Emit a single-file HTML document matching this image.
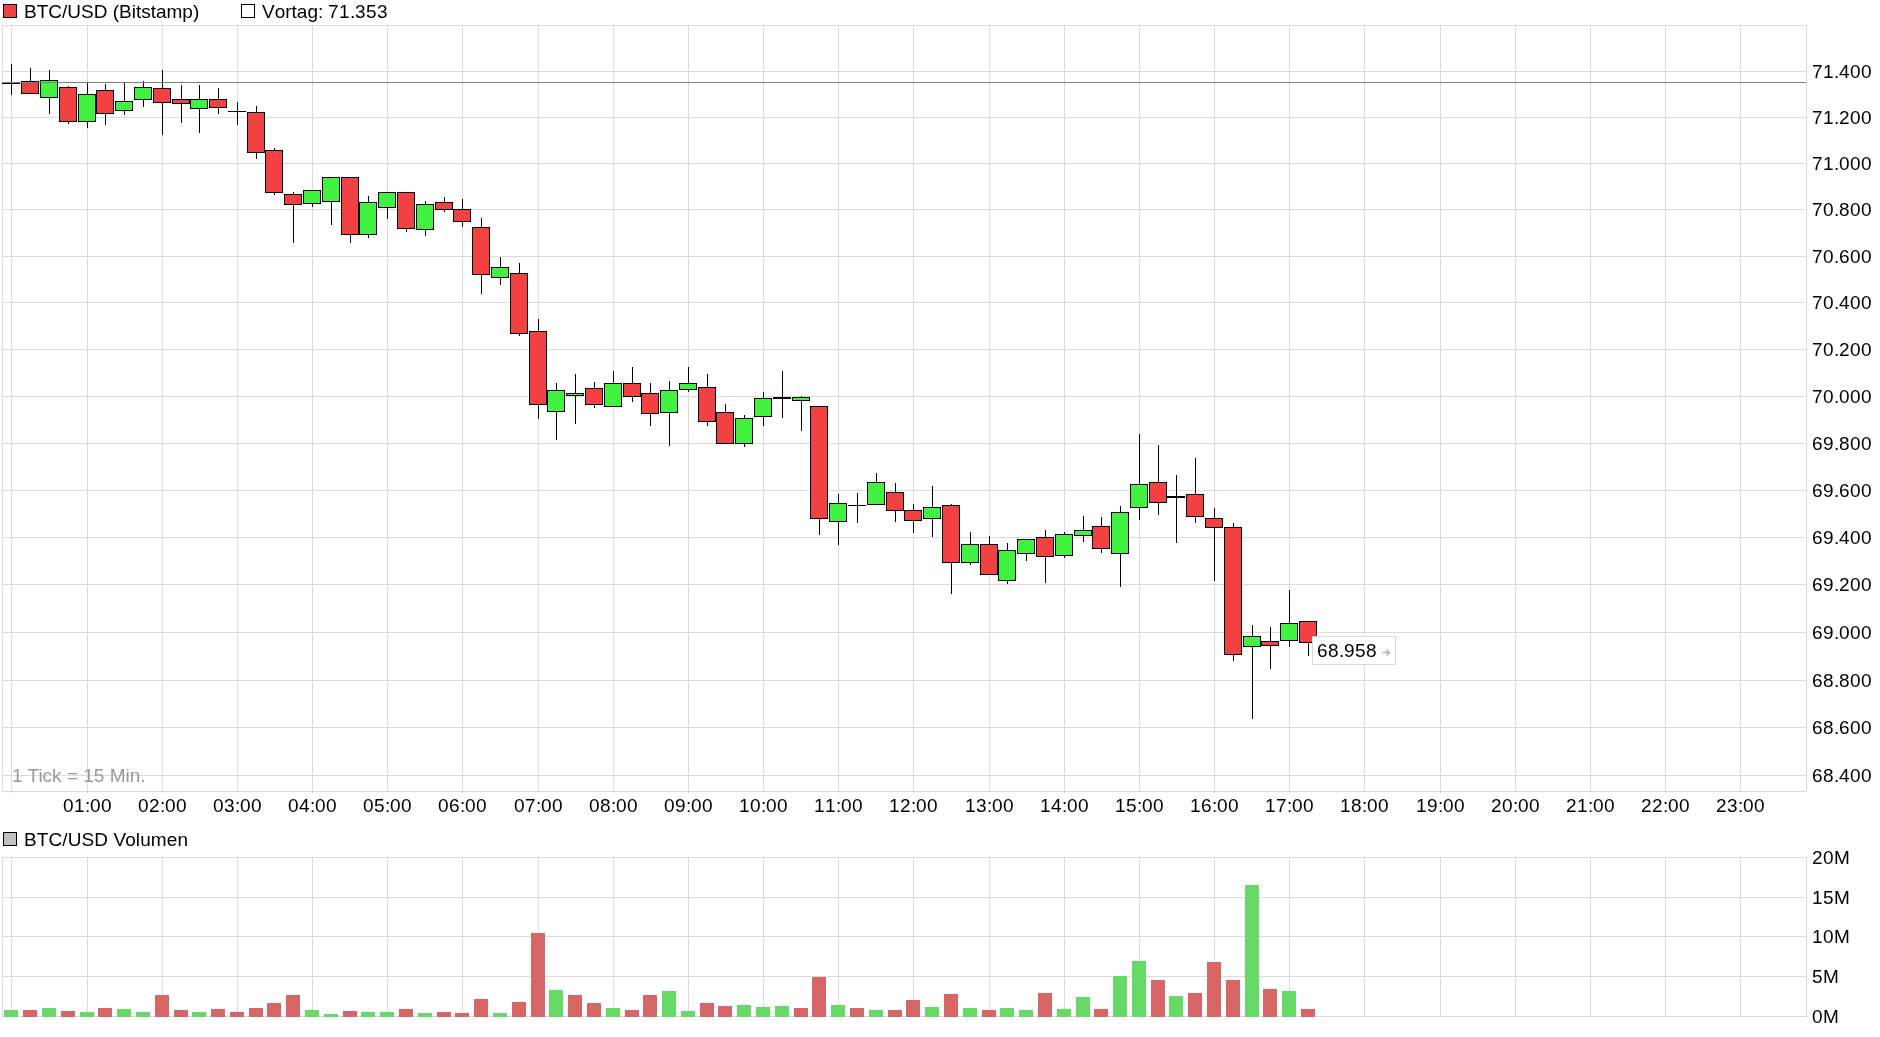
<!DOCTYPE html><html><head><meta charset="utf-8"><style>html,body{margin:0;padding:0;background:#fff;width:1880px;height:1037px;overflow:hidden}svg{display:block;will-change:transform}text{font-family:"Liberation Sans",sans-serif;font-size:19px}</style></head><body>
<svg width="1880" height="1037" viewBox="0 0 1880 1037">
<rect x="0" y="0" width="1880" height="1037" fill="#fff"/>
<path d="M11.5 25V793 M87.5 25V793 M162.5 25V793 M237.5 25V793 M312.5 25V793 M387.5 25V793 M462.5 25V793 M538.5 25V793 M613.5 25V793 M688.5 25V793 M763.5 25V793 M838.5 25V793 M913.5 25V793 M989.5 25V793 M1064.5 25V793 M1139.5 25V793 M1214.5 25V793 M1289.5 25V793 M1364.5 25V793 M1440.5 25V793 M1515.5 25V793 M1590.5 25V793 M1665.5 25V793 M1740.5 25V793 M2 71.5H1806 M2 117.5H1806 M2 163.5H1806 M2 209.5H1806 M2 256.5H1806 M2 302.5H1806 M2 349.5H1806 M2 396.5H1806 M2 443.5H1806 M2 490.5H1806 M2 537.5H1806 M2 584.5H1806 M2 632.5H1806 M2 680.5H1806 M2 727.5H1806 M2 775.5H1806" stroke="#dcdcdc" stroke-width="1" fill="none" shape-rendering="crispEdges"/>
<rect x="2.5" y="25.5" width="1804" height="766" stroke="#dadada" fill="none" shape-rendering="crispEdges"/>
<path d="M11.5 857V1017 M87.5 857V1017 M162.5 857V1017 M237.5 857V1017 M312.5 857V1017 M387.5 857V1017 M462.5 857V1017 M538.5 857V1017 M613.5 857V1017 M688.5 857V1017 M763.5 857V1017 M838.5 857V1017 M913.5 857V1017 M989.5 857V1017 M1064.5 857V1017 M1139.5 857V1017 M1214.5 857V1017 M1289.5 857V1017 M1364.5 857V1017 M1440.5 857V1017 M1515.5 857V1017 M1590.5 857V1017 M1665.5 857V1017 M1740.5 857V1017 M2 857.5H1806 M2 897.5H1806 M2 936.5H1806 M2 976.5H1806 M2 1016.5H1806" stroke="#dcdcdc" stroke-width="1" fill="none" shape-rendering="crispEdges"/>
<rect x="2.5" y="857.5" width="1804" height="159" stroke="#dadada" fill="none" shape-rendering="crispEdges"/>
<rect x="4" y="1010" width="14" height="7" fill="#66d966" shape-rendering="crispEdges"/>
<rect x="23" y="1010" width="14" height="7" fill="#d96666" shape-rendering="crispEdges"/>
<rect x="42" y="1008" width="14" height="9" fill="#66d966" shape-rendering="crispEdges"/>
<rect x="61" y="1011" width="14" height="6" fill="#d96666" shape-rendering="crispEdges"/>
<rect x="80" y="1012" width="14" height="5" fill="#66d966" shape-rendering="crispEdges"/>
<rect x="98" y="1008" width="14" height="9" fill="#d96666" shape-rendering="crispEdges"/>
<rect x="117" y="1009" width="14" height="8" fill="#66d966" shape-rendering="crispEdges"/>
<rect x="136" y="1012" width="14" height="5" fill="#66d966" shape-rendering="crispEdges"/>
<rect x="155" y="995" width="14" height="22" fill="#d96666" shape-rendering="crispEdges"/>
<rect x="174" y="1010" width="14" height="7" fill="#d96666" shape-rendering="crispEdges"/>
<rect x="192" y="1012" width="14" height="5" fill="#66d966" shape-rendering="crispEdges"/>
<rect x="211" y="1009" width="14" height="8" fill="#d96666" shape-rendering="crispEdges"/>
<rect x="230" y="1012" width="14" height="5" fill="#d96666" shape-rendering="crispEdges"/>
<rect x="249" y="1008" width="14" height="9" fill="#d96666" shape-rendering="crispEdges"/>
<rect x="267" y="1003" width="14" height="14" fill="#d96666" shape-rendering="crispEdges"/>
<rect x="286" y="995" width="14" height="22" fill="#d96666" shape-rendering="crispEdges"/>
<rect x="305" y="1010" width="14" height="7" fill="#66d966" shape-rendering="crispEdges"/>
<rect x="324" y="1014" width="14" height="3" fill="#66d966" shape-rendering="crispEdges"/>
<rect x="343" y="1011" width="14" height="6" fill="#d96666" shape-rendering="crispEdges"/>
<rect x="361" y="1012" width="14" height="5" fill="#66d966" shape-rendering="crispEdges"/>
<rect x="380" y="1012" width="14" height="5" fill="#66d966" shape-rendering="crispEdges"/>
<rect x="399" y="1009" width="14" height="8" fill="#d96666" shape-rendering="crispEdges"/>
<rect x="418" y="1013" width="14" height="4" fill="#66d966" shape-rendering="crispEdges"/>
<rect x="437" y="1012" width="14" height="5" fill="#d96666" shape-rendering="crispEdges"/>
<rect x="455" y="1013" width="14" height="4" fill="#d96666" shape-rendering="crispEdges"/>
<rect x="474" y="999" width="14" height="18" fill="#d96666" shape-rendering="crispEdges"/>
<rect x="493" y="1013" width="14" height="4" fill="#66d966" shape-rendering="crispEdges"/>
<rect x="512" y="1002" width="14" height="15" fill="#d96666" shape-rendering="crispEdges"/>
<rect x="531" y="933" width="14" height="84" fill="#d96666" shape-rendering="crispEdges"/>
<rect x="549" y="990" width="14" height="27" fill="#66d966" shape-rendering="crispEdges"/>
<rect x="568" y="995" width="14" height="22" fill="#d96666" shape-rendering="crispEdges"/>
<rect x="587" y="1003" width="14" height="14" fill="#d96666" shape-rendering="crispEdges"/>
<rect x="606" y="1008" width="14" height="9" fill="#66d966" shape-rendering="crispEdges"/>
<rect x="625" y="1010" width="14" height="7" fill="#d96666" shape-rendering="crispEdges"/>
<rect x="643" y="995" width="14" height="22" fill="#d96666" shape-rendering="crispEdges"/>
<rect x="662" y="991" width="14" height="26" fill="#66d966" shape-rendering="crispEdges"/>
<rect x="681" y="1011" width="14" height="6" fill="#66d966" shape-rendering="crispEdges"/>
<rect x="700" y="1003" width="14" height="14" fill="#d96666" shape-rendering="crispEdges"/>
<rect x="718" y="1006" width="14" height="11" fill="#d96666" shape-rendering="crispEdges"/>
<rect x="737" y="1005" width="14" height="12" fill="#66d966" shape-rendering="crispEdges"/>
<rect x="756" y="1007" width="14" height="10" fill="#66d966" shape-rendering="crispEdges"/>
<rect x="775" y="1006" width="14" height="11" fill="#66d966" shape-rendering="crispEdges"/>
<rect x="794" y="1008" width="14" height="9" fill="#d96666" shape-rendering="crispEdges"/>
<rect x="812" y="977" width="14" height="40" fill="#d96666" shape-rendering="crispEdges"/>
<rect x="831" y="1005" width="14" height="12" fill="#66d966" shape-rendering="crispEdges"/>
<rect x="850" y="1008" width="14" height="9" fill="#d96666" shape-rendering="crispEdges"/>
<rect x="869" y="1010" width="14" height="7" fill="#66d966" shape-rendering="crispEdges"/>
<rect x="888" y="1010" width="14" height="7" fill="#d96666" shape-rendering="crispEdges"/>
<rect x="906" y="1000" width="14" height="17" fill="#d96666" shape-rendering="crispEdges"/>
<rect x="925" y="1007" width="14" height="10" fill="#66d966" shape-rendering="crispEdges"/>
<rect x="944" y="994" width="14" height="23" fill="#d96666" shape-rendering="crispEdges"/>
<rect x="963" y="1008" width="14" height="9" fill="#66d966" shape-rendering="crispEdges"/>
<rect x="982" y="1010" width="14" height="7" fill="#d96666" shape-rendering="crispEdges"/>
<rect x="1000" y="1008" width="14" height="9" fill="#66d966" shape-rendering="crispEdges"/>
<rect x="1019" y="1010" width="14" height="7" fill="#66d966" shape-rendering="crispEdges"/>
<rect x="1038" y="993" width="14" height="24" fill="#d96666" shape-rendering="crispEdges"/>
<rect x="1057" y="1009" width="14" height="8" fill="#66d966" shape-rendering="crispEdges"/>
<rect x="1076" y="997" width="14" height="20" fill="#66d966" shape-rendering="crispEdges"/>
<rect x="1094" y="1009" width="14" height="8" fill="#d96666" shape-rendering="crispEdges"/>
<rect x="1113" y="976" width="14" height="41" fill="#66d966" shape-rendering="crispEdges"/>
<rect x="1132" y="961" width="14" height="56" fill="#66d966" shape-rendering="crispEdges"/>
<rect x="1151" y="980" width="14" height="37" fill="#d96666" shape-rendering="crispEdges"/>
<rect x="1169" y="996" width="14" height="21" fill="#66d966" shape-rendering="crispEdges"/>
<rect x="1188" y="993" width="14" height="24" fill="#d96666" shape-rendering="crispEdges"/>
<rect x="1207" y="962" width="14" height="55" fill="#d96666" shape-rendering="crispEdges"/>
<rect x="1226" y="980" width="14" height="37" fill="#d96666" shape-rendering="crispEdges"/>
<rect x="1245" y="885" width="14" height="132" fill="#66d966" shape-rendering="crispEdges"/>
<rect x="1263" y="989" width="14" height="28" fill="#d96666" shape-rendering="crispEdges"/>
<rect x="1282" y="991" width="14" height="26" fill="#66d966" shape-rendering="crispEdges"/>
<rect x="1301" y="1009" width="14" height="8" fill="#d96666" shape-rendering="crispEdges"/>
<path d="M11.5 64V95 M2 83.5H20 M30.5 68V94 M49.5 70V114 M68.5 86V124 M87.5 83V128 M105.5 84V125 M124.5 82V115 M143.5 81V107 M162.5 70V135 M181.5 85V123 M199.5 85V133 M218.5 88V114 M237.5 102V125 M228 111.5H246 M256.5 106V159 M274.5 148V195 M293.5 192V243 M312.5 190V207 M331.5 177V225 M350.5 177V243 M368.5 196V238 M387.5 192V219 M406.5 192V232 M425.5 201V236 M444.5 197V212 M462.5 199V227 M481.5 218V294 M500.5 257V285 M519.5 263V336 M538.5 319V419 M556.5 383V440 M575.5 374V424 M594.5 382V408 M613.5 371V407 M632.5 367V402 M650.5 383V426 M669.5 381V446 M688.5 367V392 M707.5 374V426 M725.5 404V444 M744.5 415V447 M763.5 392V426 M782.5 371V418 M773 397.5H791 M773 398.5H791 M801.5 396V431 M819.5 406V535 M838.5 494V545 M857.5 493V523 M848 505.5H866 M876.5 473V505 M895.5 483V522 M913.5 504V533 M932.5 486V537 M951.5 504V594 M970.5 532V565 M989.5 536V575 M1007.5 543V584 M1026.5 539V561 M1045.5 530V583 M1064.5 532V558 M1083.5 516V542 M1101.5 517V553 M1120.5 506V587 M1139.5 434V520 M1158.5 445V515 M1176.5 475V543 M1167 496.5H1185 M1167 497.5H1185 M1195.5 458V523 M1214.5 508V581 M1233.5 523V661 M1252.5 625V719 M1270.5 627V669 M1289.5 590V647 M1308.5 621V656" stroke="#000" stroke-width="1" fill="none" shape-rendering="crispEdges"/>
<rect x="21.5" y="81.5" width="17" height="12" fill="#f24141" stroke="#000" stroke-width="1" shape-rendering="crispEdges"/>
<rect x="40.5" y="80.5" width="17" height="17" fill="#41f241" stroke="#000" stroke-width="1" shape-rendering="crispEdges"/>
<rect x="59.5" y="87.5" width="17" height="34" fill="#f24141" stroke="#000" stroke-width="1" shape-rendering="crispEdges"/>
<rect x="78.5" y="94.5" width="17" height="27" fill="#41f241" stroke="#000" stroke-width="1" shape-rendering="crispEdges"/>
<rect x="96.5" y="90.5" width="17" height="23" fill="#f24141" stroke="#000" stroke-width="1" shape-rendering="crispEdges"/>
<rect x="115.5" y="101.5" width="17" height="9" fill="#41f241" stroke="#000" stroke-width="1" shape-rendering="crispEdges"/>
<rect x="134.5" y="87.5" width="17" height="12" fill="#41f241" stroke="#000" stroke-width="1" shape-rendering="crispEdges"/>
<rect x="153.5" y="88.5" width="17" height="14" fill="#f24141" stroke="#000" stroke-width="1" shape-rendering="crispEdges"/>
<rect x="172.5" y="99.5" width="17" height="4" fill="#f24141" stroke="#000" stroke-width="1" shape-rendering="crispEdges"/>
<rect x="190.5" y="99.5" width="17" height="9" fill="#41f241" stroke="#000" stroke-width="1" shape-rendering="crispEdges"/>
<rect x="209.5" y="99.5" width="17" height="8" fill="#f24141" stroke="#000" stroke-width="1" shape-rendering="crispEdges"/>
<rect x="247.5" y="112.5" width="17" height="40" fill="#f24141" stroke="#000" stroke-width="1" shape-rendering="crispEdges"/>
<rect x="265.5" y="150.5" width="17" height="42" fill="#f24141" stroke="#000" stroke-width="1" shape-rendering="crispEdges"/>
<rect x="284.5" y="194.5" width="17" height="10" fill="#f24141" stroke="#000" stroke-width="1" shape-rendering="crispEdges"/>
<rect x="303.5" y="190.5" width="17" height="13" fill="#41f241" stroke="#000" stroke-width="1" shape-rendering="crispEdges"/>
<rect x="322.5" y="177.5" width="17" height="24" fill="#41f241" stroke="#000" stroke-width="1" shape-rendering="crispEdges"/>
<rect x="341.5" y="177.5" width="17" height="57" fill="#f24141" stroke="#000" stroke-width="1" shape-rendering="crispEdges"/>
<rect x="359.5" y="202.5" width="17" height="32" fill="#41f241" stroke="#000" stroke-width="1" shape-rendering="crispEdges"/>
<rect x="378.5" y="192.5" width="17" height="15" fill="#41f241" stroke="#000" stroke-width="1" shape-rendering="crispEdges"/>
<rect x="397.5" y="192.5" width="17" height="36" fill="#f24141" stroke="#000" stroke-width="1" shape-rendering="crispEdges"/>
<rect x="416.5" y="204.5" width="17" height="25" fill="#41f241" stroke="#000" stroke-width="1" shape-rendering="crispEdges"/>
<rect x="435.5" y="202.5" width="17" height="7" fill="#f24141" stroke="#000" stroke-width="1" shape-rendering="crispEdges"/>
<rect x="453.5" y="209.5" width="17" height="12" fill="#f24141" stroke="#000" stroke-width="1" shape-rendering="crispEdges"/>
<rect x="472.5" y="227.5" width="17" height="47" fill="#f24141" stroke="#000" stroke-width="1" shape-rendering="crispEdges"/>
<rect x="491.5" y="267.5" width="17" height="10" fill="#41f241" stroke="#000" stroke-width="1" shape-rendering="crispEdges"/>
<rect x="510.5" y="273.5" width="17" height="60" fill="#f24141" stroke="#000" stroke-width="1" shape-rendering="crispEdges"/>
<rect x="529.5" y="331.5" width="17" height="73" fill="#f24141" stroke="#000" stroke-width="1" shape-rendering="crispEdges"/>
<rect x="547.5" y="390.5" width="17" height="21" fill="#41f241" stroke="#000" stroke-width="1" shape-rendering="crispEdges"/>
<rect x="566.5" y="393.5" width="17" height="2" fill="#41f241" stroke="#000" stroke-width="1" shape-rendering="crispEdges"/>
<rect x="585.5" y="388.5" width="17" height="16" fill="#f24141" stroke="#000" stroke-width="1" shape-rendering="crispEdges"/>
<rect x="604.5" y="383.5" width="17" height="23" fill="#41f241" stroke="#000" stroke-width="1" shape-rendering="crispEdges"/>
<rect x="623.5" y="383.5" width="17" height="13" fill="#f24141" stroke="#000" stroke-width="1" shape-rendering="crispEdges"/>
<rect x="641.5" y="393.5" width="17" height="20" fill="#f24141" stroke="#000" stroke-width="1" shape-rendering="crispEdges"/>
<rect x="660.5" y="390.5" width="17" height="22" fill="#41f241" stroke="#000" stroke-width="1" shape-rendering="crispEdges"/>
<rect x="679.5" y="383.5" width="17" height="6" fill="#41f241" stroke="#000" stroke-width="1" shape-rendering="crispEdges"/>
<rect x="698.5" y="387.5" width="17" height="34" fill="#f24141" stroke="#000" stroke-width="1" shape-rendering="crispEdges"/>
<rect x="716.5" y="412.5" width="17" height="31" fill="#f24141" stroke="#000" stroke-width="1" shape-rendering="crispEdges"/>
<rect x="735.5" y="418.5" width="17" height="25" fill="#41f241" stroke="#000" stroke-width="1" shape-rendering="crispEdges"/>
<rect x="754.5" y="398.5" width="17" height="18" fill="#41f241" stroke="#000" stroke-width="1" shape-rendering="crispEdges"/>
<rect x="792.5" y="397.5" width="17" height="3" fill="#41f241" stroke="#000" stroke-width="1" shape-rendering="crispEdges"/>
<rect x="810.5" y="406.5" width="17" height="112" fill="#f24141" stroke="#000" stroke-width="1" shape-rendering="crispEdges"/>
<rect x="829.5" y="503.5" width="17" height="18" fill="#41f241" stroke="#000" stroke-width="1" shape-rendering="crispEdges"/>
<rect x="867.5" y="482.5" width="17" height="22" fill="#41f241" stroke="#000" stroke-width="1" shape-rendering="crispEdges"/>
<rect x="886.5" y="492.5" width="17" height="18" fill="#f24141" stroke="#000" stroke-width="1" shape-rendering="crispEdges"/>
<rect x="904.5" y="510.5" width="17" height="10" fill="#f24141" stroke="#000" stroke-width="1" shape-rendering="crispEdges"/>
<rect x="923.5" y="507.5" width="17" height="11" fill="#41f241" stroke="#000" stroke-width="1" shape-rendering="crispEdges"/>
<rect x="942.5" y="505.5" width="17" height="57" fill="#f24141" stroke="#000" stroke-width="1" shape-rendering="crispEdges"/>
<rect x="961.5" y="544.5" width="17" height="18" fill="#41f241" stroke="#000" stroke-width="1" shape-rendering="crispEdges"/>
<rect x="980.5" y="544.5" width="17" height="30" fill="#f24141" stroke="#000" stroke-width="1" shape-rendering="crispEdges"/>
<rect x="998.5" y="550.5" width="17" height="30" fill="#41f241" stroke="#000" stroke-width="1" shape-rendering="crispEdges"/>
<rect x="1017.5" y="539.5" width="17" height="14" fill="#41f241" stroke="#000" stroke-width="1" shape-rendering="crispEdges"/>
<rect x="1036.5" y="537.5" width="17" height="19" fill="#f24141" stroke="#000" stroke-width="1" shape-rendering="crispEdges"/>
<rect x="1055.5" y="534.5" width="17" height="21" fill="#41f241" stroke="#000" stroke-width="1" shape-rendering="crispEdges"/>
<rect x="1074.5" y="530.5" width="17" height="5" fill="#41f241" stroke="#000" stroke-width="1" shape-rendering="crispEdges"/>
<rect x="1092.5" y="526.5" width="17" height="22" fill="#f24141" stroke="#000" stroke-width="1" shape-rendering="crispEdges"/>
<rect x="1111.5" y="512.5" width="17" height="41" fill="#41f241" stroke="#000" stroke-width="1" shape-rendering="crispEdges"/>
<rect x="1130.5" y="484.5" width="17" height="23" fill="#41f241" stroke="#000" stroke-width="1" shape-rendering="crispEdges"/>
<rect x="1149.5" y="482.5" width="17" height="20" fill="#f24141" stroke="#000" stroke-width="1" shape-rendering="crispEdges"/>
<rect x="1186.5" y="494.5" width="17" height="22" fill="#f24141" stroke="#000" stroke-width="1" shape-rendering="crispEdges"/>
<rect x="1205.5" y="518.5" width="17" height="9" fill="#f24141" stroke="#000" stroke-width="1" shape-rendering="crispEdges"/>
<rect x="1224.5" y="527.5" width="17" height="127" fill="#f24141" stroke="#000" stroke-width="1" shape-rendering="crispEdges"/>
<rect x="1243.5" y="636.5" width="17" height="10" fill="#41f241" stroke="#000" stroke-width="1" shape-rendering="crispEdges"/>
<rect x="1261.5" y="641.5" width="17" height="4" fill="#f24141" stroke="#000" stroke-width="1" shape-rendering="crispEdges"/>
<rect x="1280.5" y="623.5" width="17" height="17" fill="#41f241" stroke="#000" stroke-width="1" shape-rendering="crispEdges"/>
<rect x="1299.5" y="621.5" width="17" height="21" fill="#f24141" stroke="#000" stroke-width="1" shape-rendering="crispEdges"/>
<path d="M2 82.5H1806" stroke="#808080" stroke-width="1" shape-rendering="crispEdges"/>
<text x="1812 1823 1834 1839 1850 1861" y="78.0" font-family="Liberation Sans, sans-serif" font-size="19">71.400</text>
<text x="1812 1823 1834 1839 1850 1861" y="124.0" font-family="Liberation Sans, sans-serif" font-size="19">71.200</text>
<text x="1812 1823 1834 1839 1850 1861" y="170.2" font-family="Liberation Sans, sans-serif" font-size="19">71.000</text>
<text x="1812 1823 1834 1839 1850 1861" y="216.4" font-family="Liberation Sans, sans-serif" font-size="19">70.800</text>
<text x="1812 1823 1834 1839 1850 1861" y="262.8" font-family="Liberation Sans, sans-serif" font-size="19">70.600</text>
<text x="1812 1823 1834 1839 1850 1861" y="309.4" font-family="Liberation Sans, sans-serif" font-size="19">70.400</text>
<text x="1812 1823 1834 1839 1850 1861" y="356.1" font-family="Liberation Sans, sans-serif" font-size="19">70.200</text>
<text x="1812 1823 1834 1839 1850 1861" y="402.9" font-family="Liberation Sans, sans-serif" font-size="19">70.000</text>
<text x="1812 1823 1834 1839 1850 1861" y="449.8" font-family="Liberation Sans, sans-serif" font-size="19">69.800</text>
<text x="1812 1823 1834 1839 1850 1861" y="496.9" font-family="Liberation Sans, sans-serif" font-size="19">69.600</text>
<text x="1812 1823 1834 1839 1850 1861" y="544.1" font-family="Liberation Sans, sans-serif" font-size="19">69.400</text>
<text x="1812 1823 1834 1839 1850 1861" y="591.4" font-family="Liberation Sans, sans-serif" font-size="19">69.200</text>
<text x="1812 1823 1834 1839 1850 1861" y="638.9" font-family="Liberation Sans, sans-serif" font-size="19">69.000</text>
<text x="1812 1823 1834 1839 1850 1861" y="686.5" font-family="Liberation Sans, sans-serif" font-size="19">68.800</text>
<text x="1812 1823 1834 1839 1850 1861" y="734.3" font-family="Liberation Sans, sans-serif" font-size="19">68.600</text>
<text x="1812 1823 1834 1839 1850 1861" y="782.2" font-family="Liberation Sans, sans-serif" font-size="19">68.400</text>
<text x="1812 1823 1834" y="863.8" font-family="Liberation Sans, sans-serif" font-size="19">20M</text>
<text x="1812 1823 1834" y="903.8" font-family="Liberation Sans, sans-serif" font-size="19">15M</text>
<text x="1812 1823 1834" y="942.8" font-family="Liberation Sans, sans-serif" font-size="19">10M</text>
<text x="1812 1823" y="982.8" font-family="Liberation Sans, sans-serif" font-size="19">5M</text>
<text x="1812 1823" y="1022.8" font-family="Liberation Sans, sans-serif" font-size="19">0M</text>
<text x="63 74 85 90 101" y="811.8" font-family="Liberation Sans, sans-serif" font-size="19">01:00</text>
<text x="138 149 160 165 176" y="811.8" font-family="Liberation Sans, sans-serif" font-size="19">02:00</text>
<text x="213 224 235 240 251" y="811.8" font-family="Liberation Sans, sans-serif" font-size="19">03:00</text>
<text x="288 299 310 315 326" y="811.8" font-family="Liberation Sans, sans-serif" font-size="19">04:00</text>
<text x="363 374 385 390 401" y="811.8" font-family="Liberation Sans, sans-serif" font-size="19">05:00</text>
<text x="438 449 460 465 476" y="811.8" font-family="Liberation Sans, sans-serif" font-size="19">06:00</text>
<text x="514 525 536 541 552" y="811.8" font-family="Liberation Sans, sans-serif" font-size="19">07:00</text>
<text x="589 600 611 616 627" y="811.8" font-family="Liberation Sans, sans-serif" font-size="19">08:00</text>
<text x="664 675 686 691 702" y="811.8" font-family="Liberation Sans, sans-serif" font-size="19">09:00</text>
<text x="739 750 761 766 777" y="811.8" font-family="Liberation Sans, sans-serif" font-size="19">10:00</text>
<text x="814 825 836 841 852" y="811.8" font-family="Liberation Sans, sans-serif" font-size="19">11:00</text>
<text x="889 900 911 916 927" y="811.8" font-family="Liberation Sans, sans-serif" font-size="19">12:00</text>
<text x="965 976 987 992 1003" y="811.8" font-family="Liberation Sans, sans-serif" font-size="19">13:00</text>
<text x="1040 1051 1062 1067 1078" y="811.8" font-family="Liberation Sans, sans-serif" font-size="19">14:00</text>
<text x="1115 1126 1137 1142 1153" y="811.8" font-family="Liberation Sans, sans-serif" font-size="19">15:00</text>
<text x="1190 1201 1212 1217 1228" y="811.8" font-family="Liberation Sans, sans-serif" font-size="19">16:00</text>
<text x="1265 1276 1287 1292 1303" y="811.8" font-family="Liberation Sans, sans-serif" font-size="19">17:00</text>
<text x="1340 1351 1362 1367 1378" y="811.8" font-family="Liberation Sans, sans-serif" font-size="19">18:00</text>
<text x="1416 1427 1438 1443 1454" y="811.8" font-family="Liberation Sans, sans-serif" font-size="19">19:00</text>
<text x="1491 1502 1513 1518 1529" y="811.8" font-family="Liberation Sans, sans-serif" font-size="19">20:00</text>
<text x="1566 1577 1588 1593 1604" y="811.8" font-family="Liberation Sans, sans-serif" font-size="19">21:00</text>
<text x="1641 1652 1663 1668 1679" y="811.8" font-family="Liberation Sans, sans-serif" font-size="19">22:00</text>
<text x="1716 1727 1738 1743 1754" y="811.8" font-family="Liberation Sans, sans-serif" font-size="19">23:00</text>
<text x="12" y="781.8" fill="#999" font-family="Liberation Sans, sans-serif" font-size="19">1 Tick = 15 Min.</text>
<rect x="3.5" y="4.5" width="13" height="13" fill="#f24141" stroke="#000" shape-rendering="crispEdges"/>
<text x="24" y="17.6" font-family="Liberation Sans, sans-serif" font-size="19">BTC/USD (Bitstamp)</text>
<rect x="241.5" y="4.5" width="13" height="13" fill="#fff" stroke="#000" shape-rendering="crispEdges"/>
<text x="262 274.67 285.24 291.57 296.85 307.41 317.98 322.98 327.98 338.98 349.98 354.98 365.98 376.98" y="17.6" font-family="Liberation Sans, sans-serif" font-size="19">Vortag: 71.353</text>
<rect x="3.5" y="832.5" width="13" height="13" fill="#c0c0c0" stroke="#000" shape-rendering="crispEdges"/>
<text x="24" y="846" textLength="164" lengthAdjust="spacing" font-family="Liberation Sans, sans-serif" font-size="19">BTC/USD Volumen</text>
<rect x="1312.5" y="636.5" width="83" height="28" fill="#fff" stroke="#d9d9d9" shape-rendering="crispEdges"/>
<text x="1317 1328 1339 1344 1355 1366" y="656.8" font-family="Liberation Sans, sans-serif" font-size="19">68.958</text>
<path d="M1382.5 652.5H1389M1386.5 649.5L1389.5 652.5L1386.5 655.5" stroke="#b4b4b4" stroke-width="1.5" fill="none"/>
</svg></body></html>
